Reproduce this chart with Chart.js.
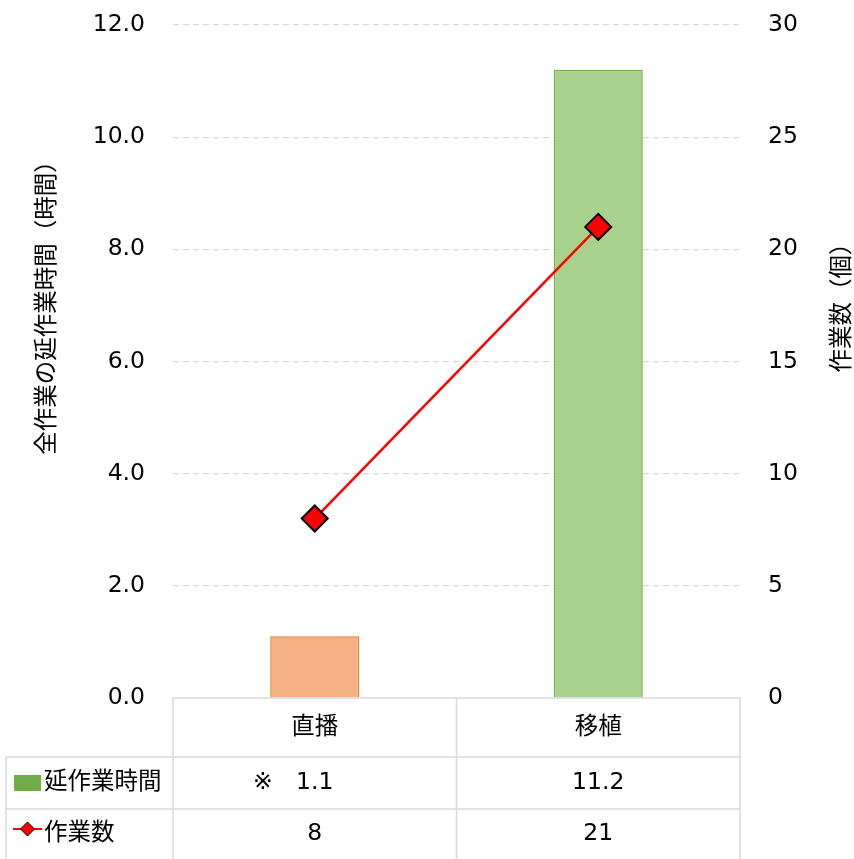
<!DOCTYPE html>
<html lang="ja">
<head>
<meta charset="UTF-8">
<title>作業時間と作業数</title>
<style>
    body {
        margin: 0;
        background: #fff;
    }
    #wrap {
        width: 854px;
        height: 859px;
    }
</style>
</head>
<body>
<div id="wrap">
    <canvas id="chart" width="854" height="859"></canvas>
</div>

<script src="https://cdn.jsdelivr.net/npm/chart.js"></script>
<script>
    // Data
    const categories = ['直播', '移植'];
    const hours = [1.1, 11.2];        // 延作業時間
    const counts = [8, 21];           // 作業数
    const notes = ['※', ''];
    const hoursLabel = '延作業時間';
    const countsLabel = '作業数';
    const leftTitle = '全作業の延作業時間（時間）';
    const rightTitle = '作業数（個）';

    const FONT = '"DejaVu Sans", "Noto Sans CJK JP", sans-serif';
    const FONT_SIZE = 23.5;
    const LINE = '#d9d9d9';

    // fixed axis widths, no extra label padding above/below the plot
    function fixAxis(width) {
        return s => {
            s.width = width;
            s.paddingTop = 0;
            s.paddingBottom = 0;
        };
    }

    // Data table under the plot + rotated axis titles
    const tablePlugin = {
        id: 'dataTable',
        afterDraw(chart) {
            const ctx = chart.ctx;
            const area = chart.chartArea;
            const x = chart.scales.x;
            const top = area.bottom;
            const row1 = top + 59;
            const row2 = row1 + 52;
            const bottom = chart.height;
            const leftEdge = 6;
            const mid = (x.getPixelForValue(0) + x.getPixelForValue(1)) / 2;

            ctx.save();
            ctx.strokeStyle = LINE;
            ctx.lineWidth = 1.5;
            ctx.beginPath();
            ctx.moveTo(area.left, top); ctx.lineTo(area.right, top);
            ctx.moveTo(leftEdge, row1); ctx.lineTo(area.right, row1);
            ctx.moveTo(leftEdge, row2); ctx.lineTo(area.right, row2);
            ctx.moveTo(leftEdge, row1); ctx.lineTo(leftEdge, bottom);
            [area.left, mid, area.right].forEach(px => {
                ctx.moveTo(px, top); ctx.lineTo(px, bottom);
            });
            ctx.stroke();

            ctx.fillStyle = '#000';
            ctx.font = FONT_SIZE + 'px ' + FONT;
            ctx.textBaseline = 'middle';
            ctx.textAlign = 'center';
            const y0 = (top + row1) / 2;
            const y1 = (row1 + row2) / 2;
            const y2 = (row2 + bottom) / 2;
            categories.forEach((c, i) => {
                const cx = x.getPixelForValue(i);
                ctx.fillText(c, cx, y0);
                ctx.fillText(hours[i].toFixed(1), cx, y1);
                ctx.fillText(String(counts[i]), cx, y2);
                if (notes[i]) ctx.fillText(notes[i], cx - 52, y1);
            });

            // legend keys
            ctx.textAlign = 'left';
            ctx.fillStyle = '#70AD47';
            ctx.fillRect(14, y1 - 8, 27, 16);
            ctx.fillStyle = '#000';
            ctx.fillText(hoursLabel, 44, y1);

            ctx.strokeStyle = '#FF0000';
            ctx.lineWidth = 2;
            ctx.beginPath();
            ctx.moveTo(13, y2 - 5); ctx.lineTo(42, y2 - 5);
            ctx.stroke();
            ctx.beginPath();
            ctx.moveTo(27.5, y2 - 12); ctx.lineTo(34.5, y2 - 5);
            ctx.lineTo(27.5, y2 + 2); ctx.lineTo(20.5, y2 - 5);
            ctx.closePath();
            ctx.fillStyle = '#FF0000';
            ctx.fill();
            ctx.strokeStyle = '#000';
            ctx.lineWidth = 1;
            ctx.stroke();
            ctx.fillStyle = '#000';
            ctx.fillText(countsLabel, 44, y2);

            // axis titles, both read bottom to top
            ctx.textAlign = 'center';
            [[48, leftTitle], [843, rightTitle]].forEach(([tx, t]) => {
                ctx.save();
                ctx.translate(tx, 302);
                ctx.rotate(-Math.PI / 2);
                ctx.fillText(t, 0, 0);
                ctx.restore();
            });
            ctx.restore();
        }
    };

    new Chart(document.getElementById('chart'), {
        data: {
            labels: categories,
            datasets: [
                {
                    type: 'line',
                    label: countsLabel,
                    data: counts,
                    yAxisID: 'y1',
                    borderColor: '#FF0000',
                    borderWidth: 2.5,
                    pointStyle: 'rectRot',
                    pointRadius: 13,
                    pointBackgroundColor: '#FF0000',
                    pointBorderColor: '#000',
                    pointBorderWidth: 2,
                    order: 0
                },
                {
                    type: 'bar',
                    label: hoursLabel,
                    data: hours,
                    yAxisID: 'y',
                    backgroundColor: ['#F4B183', '#A9D18E'],
                    borderColor: ['#ED7D31', '#70AD47'],
                    borderWidth: 1.5,
                    categoryPercentage: 1,
                    barPercentage: 0.314,
                    order: 1
                }
            ]
        },
        options: {
            responsive: false,
            animation: false,
            layout: { autoPadding: false, padding: { top: 25, bottom: 161, left: 0, right: 0 } },
            plugins: {
                legend: { display: false },
                tooltip: { enabled: false }
            },
            scales: {
                x: {
                    display: false,
                    offset: true
                },
                y: {
                    position: 'left',
                    min: 0,
                    max: 12,
                    afterFit: fixAxis(173),
                    ticks: {
                        stepSize: 2,
                        padding: 28,
                        color: '#000',
                        font: { family: FONT, size: FONT_SIZE },
                        callback: v => v.toFixed(1)
                    },
                    grid: {
                        drawTicks: false,
                        color: ctx => ctx.tick && ctx.tick.value === 0 ? 'transparent' : LINE,
                        lineWidth: 1.2
                    },
                    border: { display: false, dash: [6, 4] }
                },
                y1: {
                    position: 'right',
                    min: 0,
                    max: 30,
                    afterFit: fixAxis(114),
                    ticks: {
                        stepSize: 5,
                        padding: 28,
                        color: '#000',
                        font: { family: FONT, size: FONT_SIZE }
                    },
                    grid: { display: false, drawTicks: false },
                    border: { display: false }
                }
            }
        },
        plugins: [tablePlugin]
    });
</script>
</body>
</html>
